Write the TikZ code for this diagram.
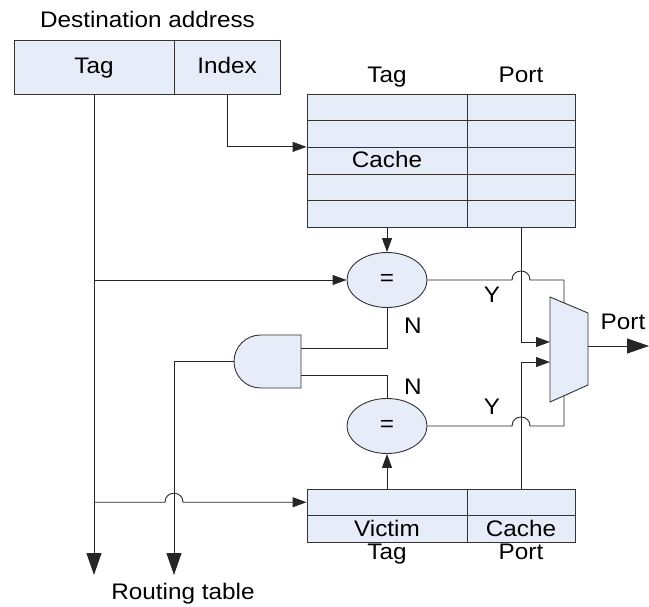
\documentclass[tikz,border=0pt]{standalone}
\usepackage{fontspec}
\setmainfont{Liberation Sans}[FakeStretch=1.08]
\usetikzlibrary{arrows.meta,shapes.geometric}
\definecolor{cellfill}{RGB}{231,237,248}
\begin{document}
\begin{tikzpicture}[x=1pt,y=-1pt,font=\fontsize{22.5}{26}\selectfont,
  cell/.style={draw=black!80,fill=cellfill,line width=0.9pt,inner sep=0pt,minimum height=26.67pt},
  wire/.style={line width=0.9pt,draw=black!85},
  arr/.style={wire,-{Triangle[length=14pt,width=10pt]}},
  bigarr/.style={wire,-{Triangle[length=22pt,width=15pt]}},
  lbl/.style={anchor=base,inner sep=0pt},
  cmp/.style={ellipse,draw=black!80,fill=cellfill,line width=0.9pt,minimum width=80pt,minimum height=55pt,inner sep=0pt}]
\useasboundingbox (0,0) rectangle (649,607);

% destination address
\node[lbl] (dal) at (147.5,28) {Destination address};
\node[cell,minimum width=160pt,minimum height=54pt] (tagf) at (94,67) {};
\node[cell,minimum width=106pt,minimum height=54pt] (idxf) at (227,67) {};
\node[lbl] (tagl) at (94,74) {Tag};
\node[lbl] (idxl) at (227,74) {Index};

% cache table
\node[lbl] (cth) at (387,83) {Tag};
\node[lbl] (cph) at (521,83) {Port};
\foreach \i in {1,...,5}{
  \node[cell,minimum width=160pt] (c\i) at (387,{94+(\i-0.5)*26.67}) {};
  \node[cell,minimum width=108pt] (p\i) at (521,{94+(\i-0.5)*26.67}) {};
}
\node[lbl] (cachel) at (387,167.5) {Cache};

% victim table
\node[cell,minimum width=160pt,minimum height=26.5pt] (v1) at (387,502.25) {};
\node[cell,minimum width=108pt,minimum height=26.5pt] (vp1) at (521,502.25) {};
\node[cell,minimum width=160pt,minimum height=26.5pt] (v2) at (387,528.75) {};
\node[cell,minimum width=108pt,minimum height=26.5pt] (vp2) at (521,528.75) {};
\node[lbl] (victl) at (387,536) {Victim};
\node[lbl] (vcachel) at (521,536) {Cache};
\node[lbl] (vtagl) at (387,559.5) {Tag};
\node[lbl] (vportl) at (521,559.5) {Port};

% comparators
\node[cmp] (e1) at (387,280) {=};
\node[cmp] (e2) at (387,426) {=};

% AND gate
\coordinate (ai1) at (301,348);
\coordinate (ai2) at (301,375);
\coordinate (ao) at (234,361.5);
\draw[draw=black!80,fill=cellfill,line width=0.9pt]
  (301,335) -- (260.5,335) .. controls (245.9,335) and (234,346.9) .. (ao)
  .. controls (234,376.1) and (245.9,388) .. (260.5,388) -- (301,388) -- cycle;

% multiplexer
\coordinate (m1) at (550,297);
\coordinate (m2) at (588,313);
\coordinate (m3) at (588,385);
\coordinate (m4) at (550,402);
\draw[draw=black!80,fill=cellfill,line width=0.9pt] (m1) -- (m2) -- (m3) -- (m4) -- cycle;
\coordinate (mi1) at (550,342);
\coordinate (mi2) at (550,362);
\coordinate (mout) at (588,346);
\coordinate (ms1) at (564,302.9);
\coordinate (ms2) at (564,395.7);

% junctions / ends
\coordinate (j1) at (94,280);
\coordinate (j2) at (94,502.25);
\coordinate (rt1) at (94,575);
\coordinate (rt2) at (174,575);
\coordinate (outend) at (649,346);

% connectors
\draw[bigarr] (tagf.south) -- (rt1);
\draw[arr] (j1) -- (e1.west);
\draw[arr] (j2) -- (165,502.25) .. controls (165,490.25) and (183,490.25) .. (183,502.25) -- (v1.west);
\draw[arr] (idxf.south) |- (c3.north west);
\draw[arr] (c5.south) -- (e1.north);
\draw[arr] (v1.north) -- (e2.south);
\draw[wire] (e1.south) |- (ai1);
\draw[wire] (e2.north) |- (ai2);
\draw[bigarr] (ao) -| (rt2);
\draw[arr] (p5.south) |- (mi1);
\draw[arr] (vp1.north) |- (mi2);
\draw[wire] (e1.east) -- (512,280) .. controls (512,268) and (530,268) .. (530,280) -- (564,280) -- (ms1);
\draw[wire] (e2.east) -- (512,426) .. controls (512,414) and (530,414) .. (530,426) -- (564,426) -- (ms2);
\draw[bigarr] (mout) -- (outend);

% labels
\node[lbl] (y1) at (492,303) {Y};
\node[lbl] (y2) at (492,414) {Y};
\node[lbl] (n1) at (413,334) {N};
\node[lbl] (n2) at (413,394) {N};
\node[lbl] (portout) at (623,330) {Port};
\node[lbl] (rtl) at (183,599) {Routing table};
\end{tikzpicture}
\end{document}
